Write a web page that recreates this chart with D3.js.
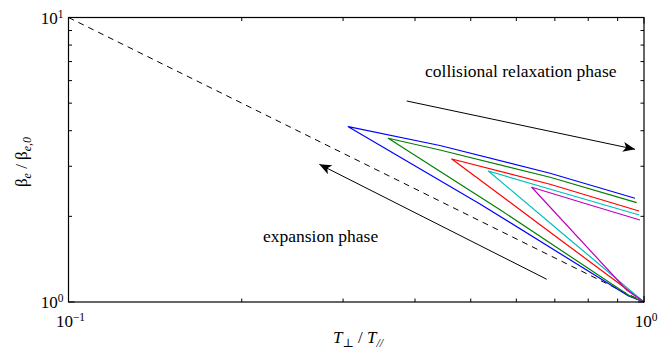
<!DOCTYPE html>
<html>
<meta charset="utf-8">
<style>
body { margin: 0; background: #fff; }
.frame { fill: none; stroke: #000; stroke-width: 1.2; }
.tick { stroke: #000; stroke-width: 1; }
</style>
<body>
<svg id="chart" width="670" height="352" font-family="'Liberation Serif', 'Times New Roman', 'DejaVu Serif', serif"></svg>
<script src="https://d3js.org/d3.v7.min.js"></script>
<script>

// T_perp / T_par  and  beta_e / beta_e0
// each loop: (1,1) -> up the expansion branch -> tip -> back along the relaxation branch
var seriesColors = ["#0000ff", "#008000", "#ff0000", "#00bfbf", "#bf00bf"];

var blueT    = [1, 0.94, 0.5188, 0.3063, 0.4419, 0.6867, 0.9647];
var blueB    = [1, 1.05, 2.211, 4.133, 3.548, 2.835, 2.315];
var greenT   = [1, 0.945, 0.5622, 0.3594, 0.4419, 0.6867, 0.9712];
var greenB   = [1, 1.05, 2.109, 3.763, 3.421, 2.744, 2.234];
var redT     = [1, 0.6597, 0.4635, 0.6867, 0.9802];
var redB     = [1, 1.869, 3.182, 2.593, 2.089];
var cyanT    = [1, 0.7436, 0.5364, 0.7145, 0.9814];
var cyanB    = [1, 1.656, 2.887, 2.436, 2.022];
var magentaT = [1, 0.9331, 0.6381, 0.8058, 0.984];
var magentaB = [1, 1.102, 2.531, 2.193, 1.942];

var seriesT = [blueT, greenT, redT, cyanT, magentaT];
var seriesB = [blueB, greenB, redB, cyanB, magentaB];

// dashed reference line beta ~ 1/T
var refT = [0.1, 1];
var refB = [10, 1];

// annotation arrows [tail, head]
var relaxArrow  = [[0.387, 5.088], [0.9647, 3.441]];
var expandArrow = [[0.6776, 1.202], [0.2728, 3.048]];

var svg = d3.select("#chart"),
    margin = {top: 17.5, right: 26, bottom: 50, left: 68.5},
    width = 670 - margin.left - margin.right,
    height = 352 - margin.top - margin.bottom;

var x = d3.scaleLog().domain([0.1, 1]).range([margin.left, margin.left + width]);
var y = d3.scaleLog().domain([1, 10]).range([margin.top + height, margin.top]);

var g = svg.append("g");

// dashed line
g.append("path")
    .attr("d", d3.line().x(function(d) { return x(d[0]); }).y(function(d) { return y(d[1]); })(d3.zip(refT, refB)))
    .attr("fill", "none")
    .attr("stroke", "#000")
    .attr("stroke-width", 1)
    .attr("stroke-dasharray", "6,5");

var line = d3.line()
    .x(function(d) { return x(d[0]); })
    .y(function(d) { return y(d[1]); });

seriesT.forEach(function(ts, i) {
  g.append("path")
      .attr("d", line(d3.zip(ts, seriesB[i])))
      .attr("fill", "none")
      .attr("stroke", seriesColors[i])
      .attr("stroke-width", 1.2)
      .attr("stroke-linejoin", "round");
});

// arrows
function arrow(a) {
  var x0 = x(a[0][0]), y0 = y(a[0][1]), x1 = x(a[1][0]), y1 = y(a[1][1]);
  var ang = Math.atan2(y1 - y0, x1 - x0);
  g.append("line")
      .attr("x1", x0).attr("y1", y0).attr("x2", x1).attr("y2", y1)
      .attr("stroke", "#000").attr("stroke-width", 1);
  var L = 12, W = 5, N = 9;
  var c = Math.cos(ang), s = Math.sin(ang);
  var pts = [
    [x1, y1],
    [x1 - L * c + W * s, y1 - L * s - W * c],
    [x1 - N * c, y1 - N * s],
    [x1 - L * c - W * s, y1 - L * s + W * c]
  ];
  g.append("path").attr("d", "M" + pts.join("L") + "Z").attr("fill", "#000");
}
arrow(relaxArrow);
arrow(expandArrow);

g.append("text").attr("x", 425).attr("y", 77).style("font-size", "17.5px").text("collisional relaxation phase");
g.append("text").attr("x", 263).attr("y", 242).style("font-size", "17.5px").text("expansion phase");

// frame
svg.append("rect").attr("class", "frame")
    .attr("x", margin.left).attr("y", margin.top).attr("width", width).attr("height", height);

// ticks on all four sides, inward
var xt = [0.1, 0.2, 0.3, 0.4, 0.5, 0.6, 0.7, 0.8, 0.9, 1];
var yt = [1, 2, 3, 4, 5, 6, 7, 8, 9, 10];
function tl(v) { return (v === 1 || v === 0.1 || v === 10) ? 6 : 3.5; }
xt.forEach(function(v) {
  svg.append("line").attr("class", "tick").attr("x1", x(v)).attr("x2", x(v))
      .attr("y1", margin.top + height).attr("y2", margin.top + height - tl(v));
  svg.append("line").attr("class", "tick").attr("x1", x(v)).attr("x2", x(v))
      .attr("y1", margin.top).attr("y2", margin.top + tl(v));
});
yt.forEach(function(v) {
  svg.append("line").attr("class", "tick").attr("y1", y(v)).attr("y2", y(v))
      .attr("x1", margin.left).attr("x2", margin.left + tl(v));
  svg.append("line").attr("class", "tick").attr("y1", y(v)).attr("y2", y(v))
      .attr("x1", margin.left + width).attr("x2", margin.left + width - tl(v));
});

// tick labels
function powLabel(sel, exp) {
  sel.append("tspan").text("10");
  sel.append("tspan").attr("dy", "-0.5em").style("font-size", "11.5px").text(exp);
}
var ylab = [[10, "1"], [1, "0"]];
ylab.forEach(function(d) {
  var t = svg.append("text").attr("x", margin.left - 5).attr("y", y(d[0]) + 6)
      .attr("text-anchor", "end").style("font-size", "17px");
  powLabel(t, d[1]);
});
var xlab = [[0.1, "\u22121"], [1, "0"]];
xlab.forEach(function(d) {
  var t = svg.append("text").attr("x", x(d[0]) + 2).attr("y", margin.top + height + 25)
      .attr("text-anchor", "middle").style("font-size", "17px");
  powLabel(t, d[1]);
});

// axis titles
var xt2 = svg.append("text").attr("x", 358).attr("y", 343).attr("text-anchor", "middle").style("font-size", "17px");
xt2.append("tspan").style("font-style", "italic").text("T");
xt2.append("tspan").attr("dy", "4").style("font-size", "12px").text("\u22a5");
xt2.append("tspan").attr("dy", "-4").text(" / ");
xt2.append("tspan").style("font-style", "italic").text("T");
xt2.append("tspan").attr("dy", "4").style("font-size", "12px").style("font-style", "italic").text("//");

var yt2 = svg.append("text").attr("transform", "translate(27,162) rotate(-90)")
    .attr("text-anchor", "middle").style("font-size", "17px");
yt2.append("tspan").text("\u03b2");
yt2.append("tspan").attr("dy", "4").style("font-size", "12px").style("font-style", "italic").text("e");
yt2.append("tspan").attr("dy", "-4").text(" / \u03b2");
yt2.append("tspan").attr("dy", "4").style("font-size", "12px").style("font-style", "italic").text("e,0");

</script>
</body>
</html>
